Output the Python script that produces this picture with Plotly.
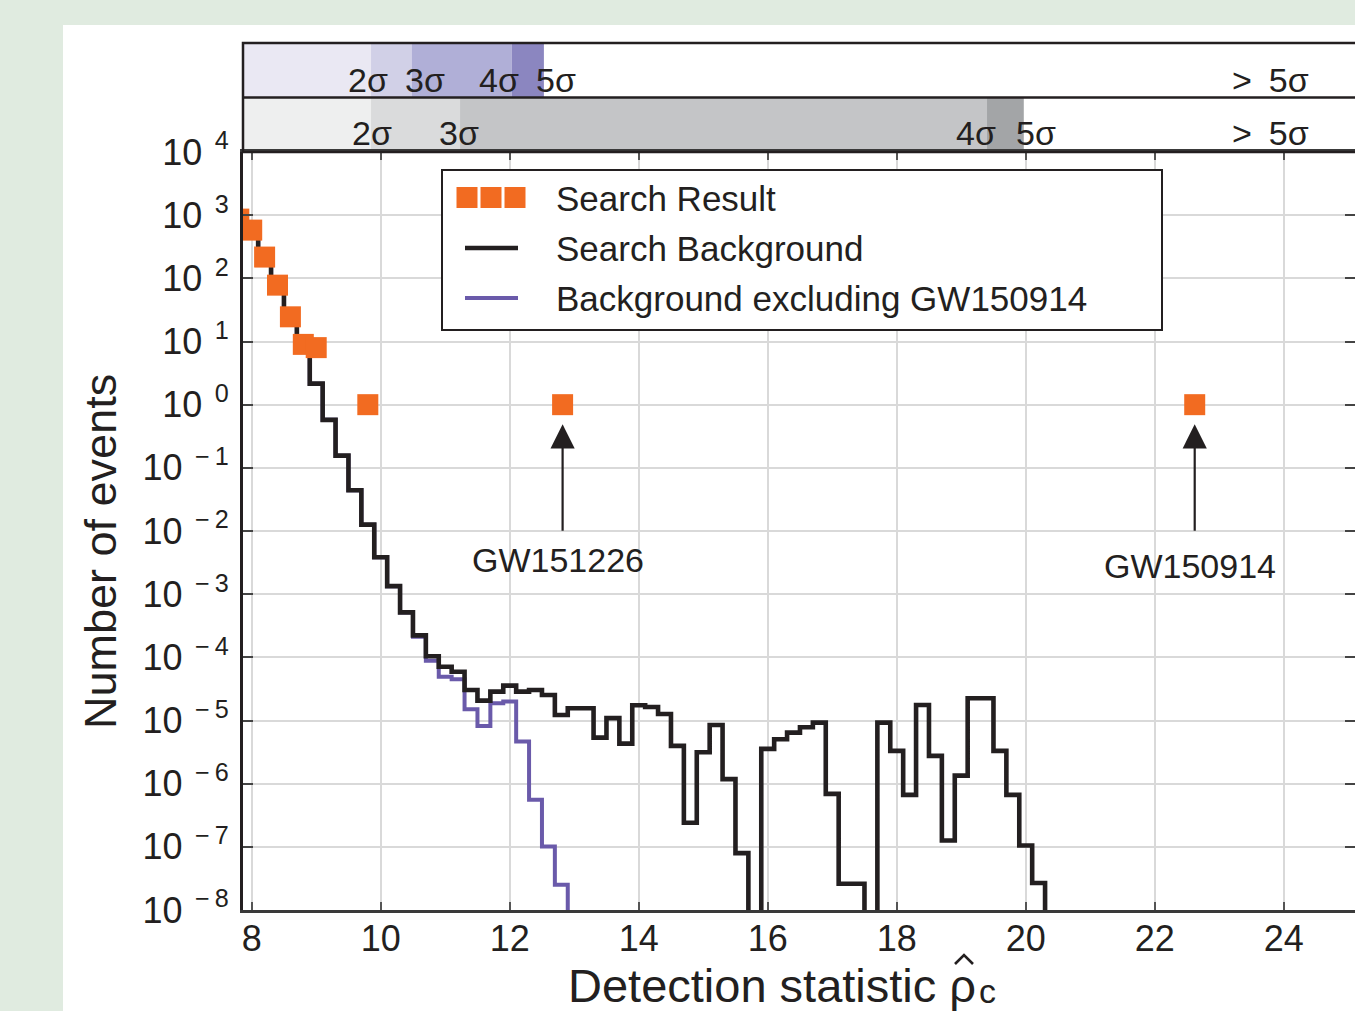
import numpy as np
import plotly.graph_objects as go

# ---------------- data ----------------
bin_width = 0.2
bg_centers = [7.8, 8.0, 8.2, 8.4, 8.6, 8.8, 9.0, 9.2, 9.4, 9.6, 9.8, 10.0, 10.2, 10.4,
              10.6, 10.8, 11.0, 11.2, 11.4, 11.6, 11.8, 12.0, 12.2, 12.4, 12.6, 12.8,
              13.0, 13.2, 13.4, 13.6, 13.8, 14.0, 14.2, 14.4, 14.6, 14.8, 15.0, 15.2,
              15.4, 15.6, 15.8, 16.0, 16.2, 16.4, 16.6, 16.8, 17.0, 17.2, 17.4, 17.6,
              17.8, 18.0, 18.2, 18.4, 18.6, 18.8, 19.0, 19.2, 19.4, 19.6, 19.8, 20.0,
              20.2, 20.4]
bg_values = [870, 530, 205, 74, 23, 8.7, 2.15, 0.575, 0.156, 0.0442, 0.0126, 3.85e-3,
             1.34e-3, 5.14e-4, 2.23e-4, 1.04e-4, 7.1e-5, 5.9e-5, 3.04e-5, 2.06e-5,
             2.86e-5, 3.56e-5, 2.86e-5, 3.04e-5, 2.54e-5, 1.22e-5, 1.56e-5, 1.56e-5,
             5.36e-6, 1.09e-5, 4.31e-6, 1.74e-5, 1.64e-5, 1.27e-5, 3.96e-6, 2.4e-7,
             3.15e-6, 8.5e-6, 1.18e-6, 7.96e-8, 0, 3.55e-6, 5.06e-6, 6.43e-6, 7.82e-6,
             9.25e-6, 6.9e-7, 2.6e-8, 2.6e-8, 0, 9.25e-6, 3.3e-6, 6.65e-7, 1.76e-5,
             2.75e-6, 1.26e-7, 1.34e-6, 2.25e-5, 2.25e-5, 3.3e-6, 6.65e-7, 1.05e-7,
             2.67e-8, 0]

ex_centers = [7.8, 8.0, 8.2, 8.4, 8.6, 8.8, 9.0, 9.2, 9.4, 9.6, 9.8, 10.0, 10.2, 10.4,
              10.6, 10.8, 11.0, 11.2, 11.4, 11.6, 11.8, 12.0, 12.2, 12.4, 12.6, 12.8, 13.0]
ex_values = [870, 530, 205, 74, 23, 8.7, 2.15, 0.575, 0.156, 0.0442, 0.0126, 3.85e-3,
             1.34e-3, 5.14e-4, 2.12e-4, 8.83e-5, 4.93e-5, 4.49e-5, 1.51e-5, 8.2e-6,
             1.87e-5, 1.99e-5, 4.63e-6, 5.55e-7, 1.01e-7, 2.51e-8, 0]

res_x = [7.8, 8.0, 8.2, 8.4, 8.6, 8.8, 9.0, 9.8, 12.82, 22.62]
res_y = [866, 580, 217, 78, 24.6, 9, 8, 1, 1, 1]

events = ["GW151226", "GW150914"]
event_x = [12.82, 22.62]

x_ticks = [8, 10, 12, 14, 16, 18, 20, 22, 24]
y_exps = list(range(-8, 5))

sig_top_bounds = [9.85, 10.48, 12.03, 12.53]
sig_top_labels = ["2σ", "3σ", "4σ", "5σ", ">\u20025σ"]
sig_top_label_x = [9.80, 10.68, 11.83, 12.72, 23.79]
sig_bot_bounds = [9.85, 11.23, 19.40, 19.97]
sig_bot_labels = ["2σ", "3σ", "4σ", "5σ", ">\u20025σ"]
sig_bot_label_x = [9.86, 11.21, 19.23, 20.16, 23.79]

# ---------------- styling / layout helpers ----------------
W, H = 1355, 1011
L, R, T, B = 243, 0, 43, 101
PW, PH = W - L - R, H - T - B
XR = [7.865, 25.105]
FONT = "Liberation Sans, Arial, Helvetica, sans-serif"
INK = "#231f20"
ORANGE = "#f26b21"
PURPLE = "#6a5aaa"
top_cols = ["#eae8f3", "#d1d0e7", "#b0afd7", "#8b86c0"]
bot_cols = ["#eeefef", "#dadbdc", "#c4c5c7", "#a3a5a7"]


def pxx(x):
    return (x - L) / PW


def pxy(y):
    return (H - B - y) / PH


def steps(centers, values):
    c = np.asarray(centers, float)
    v = np.asarray(values, float)
    v = np.where(v > 0, v, 1e-14)
    xs = np.append(c - bin_width / 2, c[-1] + bin_width / 2)
    ys = np.append(v, v[-1])
    return xs, ys


fig = go.Figure()

xs, ys = steps(ex_centers, ex_values)
fig.add_trace(go.Scatter(x=xs, y=ys, mode="lines", line=dict(color=PURPLE, width=4, shape="hv"),
                         name="Background excluding GW150914", showlegend=False, hoverinfo="skip"))
xs, ys = steps(bg_centers, bg_values)
fig.add_trace(go.Scatter(x=xs, y=ys, mode="lines", line=dict(color=INK, width=4.6, shape="hv"),
                         name="Search Background", showlegend=False, hoverinfo="skip"))
fig.add_trace(go.Scatter(x=res_x, y=res_y, mode="markers",
                         marker=dict(symbol="square", size=21, color=ORANGE, line=dict(width=0)),
                         name="Search Result", showlegend=False))

shapes = []
annotations = []

# white panel on green background
shapes.append(dict(type="rect", xref="paper", yref="paper", x0=pxx(63), x1=pxx(W + 20),
                   y0=pxy(H + 20), y1=pxy(25), fillcolor="white", line=dict(width=0), layer="below"))

# significance bands
y_main_top = pxy(152)
y_mid = pxy(97.5)
y_top = pxy(43)
edges_top = [XR[0]] + sig_top_bounds
edges_bot = [XR[0]] + sig_bot_bounds
for i, col in enumerate(top_cols):
    shapes.append(dict(type="rect", xref="x", yref="paper", x0=edges_top[i], x1=edges_top[i + 1],
                       y0=y_mid, y1=y_top, fillcolor=col, line=dict(width=0), layer="below"))
for i, col in enumerate(bot_cols):
    shapes.append(dict(type="rect", xref="x", yref="paper", x0=edges_bot[i], x1=edges_bot[i + 1],
                       y0=y_main_top, y1=y_mid, fillcolor=col, line=dict(width=0), layer="below"))
shapes.append(dict(type="rect", xref="paper", yref="paper", x0=0, x1=1.05, y0=y_main_top, y1=y_top,
                   line=dict(color=INK, width=2.5)))
shapes.append(dict(type="line", xref="paper", yref="paper", x0=0, x1=1.05, y0=y_mid, y1=y_mid,
                   line=dict(color=INK, width=2.5)))

for lab, xv in zip(sig_top_labels, sig_top_label_x):
    annotations.append(dict(x=xv, y=pxy(80), xref="x", yref="paper", text=lab, showarrow=False,
                            font=dict(size=34, color=INK, family=FONT), xanchor="center", yanchor="middle"))
for lab, xv in zip(sig_bot_labels, sig_bot_label_x):
    annotations.append(dict(x=xv, y=pxy(133), xref="x", yref="paper", text=lab, showarrow=False,
                            font=dict(size=34, color=INK, family=FONT), xanchor="center", yanchor="middle"))

# legend (drawn by hand)
shapes.append(dict(type="rect", xref="paper", yref="paper", x0=pxx(442), x1=pxx(1162),
                   y0=pxy(330), y1=pxy(170), fillcolor="white", line=dict(color=INK, width=2)))
for cx in [467, 491, 515]:
    shapes.append(dict(type="rect", xref="paper", yref="paper", x0=pxx(cx - 10.5), x1=pxx(cx + 10.5),
                       y0=pxy(208), y1=pxy(187), fillcolor=ORANGE, line=dict(width=0)))
shapes.append(dict(type="line", xref="paper", yref="paper", x0=pxx(465), x1=pxx(518),
                   y0=pxy(248), y1=pxy(248), line=dict(color=INK, width=4.6)))
shapes.append(dict(type="line", xref="paper", yref="paper", x0=pxx(465), x1=pxx(518),
                   y0=pxy(298), y1=pxy(298), line=dict(color=PURPLE, width=4)))
for txt, yy in [("Search Result", 198), ("Search Background", 248),
                ("Background excluding GW150914", 298)]:
    annotations.append(dict(x=pxx(554), y=pxy(yy), xref="paper", yref="paper", text=txt,
                            showarrow=False, xanchor="left", yanchor="middle",
                            font=dict(size=35, color=INK, family=FONT)))

# event arrows and labels
def ylog_px(py):
    return (404.3 - py) / 63.25

for name, ex, tx, ty in zip(events, event_x, [12.75, 22.55], [560, 566]):
    annotations.append(dict(x=ex, y=ylog_px(424), xref="x", yref="y", ax=ex, ay=ylog_px(532),
                            axref="x", ayref="y", text="", showarrow=True, arrowhead=2,
                            arrowsize=2.2, arrowwidth=2.2, arrowcolor=INK, standoff=0))
    annotations.append(dict(x=tx, y=ylog_px(ty), xref="x", yref="y", text=name, showarrow=False,
                            xanchor="center", yanchor="middle",
                            font=dict(size=34, color=INK, family=FONT)))

# axis titles
annotations.append(dict(x=pxx(100), y=pxy(552), xref="paper", yref="paper", text="Number of events",
                        textangle=-90, showarrow=False, xanchor="center", yanchor="middle",
                        font=dict(size=45, color=INK, family=FONT)))
annotations.append(dict(x=pxx(566), y=pxy(985), xref="paper", yref="paper",
                        text="Detection statistic ρ", showarrow=False,
                        xanchor="left", yanchor="middle",
                        font=dict(size=47, color=INK, family=FONT)))
annotations.append(dict(x=pxx(977), y=pxy(991), xref="paper", yref="paper",
                        text="c", showarrow=False, xanchor="left", yanchor="middle",
                        font=dict(size=34, color=INK, family=FONT)))
# circumflex over rho, drawn as a small chevron
hx, hy = 964, 964
shapes.append(dict(type="path", xref="paper", yref="paper",
                   path="M %f,%f L %f,%f L %f,%f" % (pxx(hx - 9), pxy(hy), pxx(hx), pxy(hy - 9),
                                                     pxx(hx + 9), pxy(hy)),
                   line=dict(color=INK, width=2.6)))

ytext = []
for e in y_exps:
    ytext.append("10<sup>\u2002%s</sup>" % (str(e) if e >= 0 else "−\u2009" + str(-e)))

fig.update_layout(
    width=W, height=H,
    margin=dict(l=L, r=R, t=T, b=B, pad=0),
    paper_bgcolor="#e0ebe0",
    plot_bgcolor="white",
    showlegend=False,
    font=dict(family=FONT, color=INK),
    shapes=shapes,
    annotations=annotations,
    xaxis=dict(range=XR, tickvals=x_ticks, ticktext=[str(t) for t in x_ticks],
               ticks="inside", ticklen=8, tickwidth=2, tickcolor="#555555",
               showgrid=True, gridcolor="#d9d9d9", gridwidth=1.5, zeroline=False,
               showline=True, linecolor="#3a3a3a", linewidth=2.5, mirror="ticks",
               tickfont=dict(size=36, color=INK, family=FONT), automargin=False,
               domain=[0, 1], ticklabelstandoff=-5),
    yaxis=dict(type="log", range=[-8, 4], tickvals=[10.0 ** e for e in y_exps], ticktext=ytext,
               ticks="inside", ticklen=10, tickwidth=2, tickcolor="#444444",
               showgrid=True, gridcolor="#d9d9d9", gridwidth=1.5, zeroline=False,
               showline=True, linecolor=INK, linewidth=3, mirror="ticks",
               tickfont=dict(size=36, color=INK, family=FONT), automargin=False,
               domain=[0, y_main_top], ticklabelstandoff=4),
)

fig.write_html("out.html", config={"displayModeBar": False},
               post_script="document.body.style.margin='0';document.body.style.padding='0';")
